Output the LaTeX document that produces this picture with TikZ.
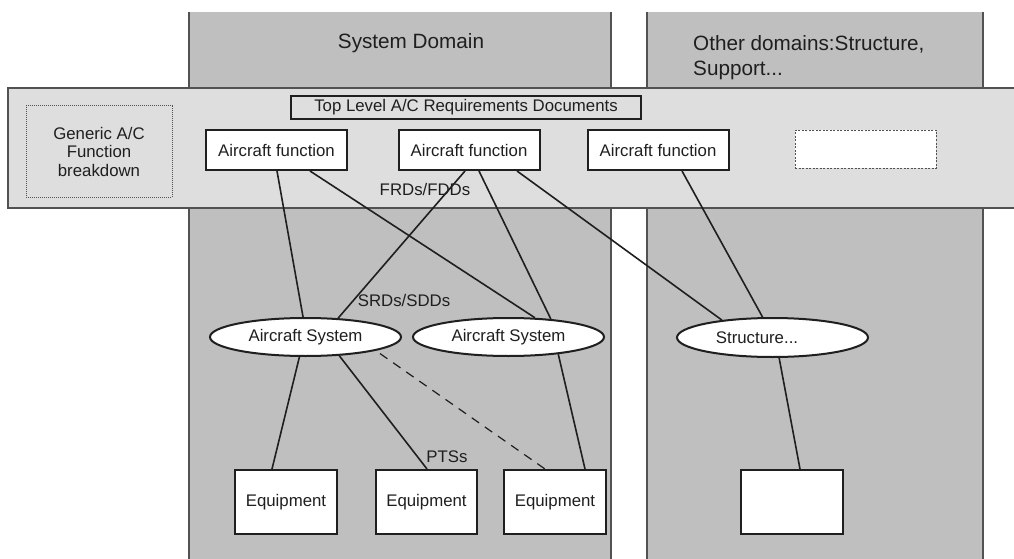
\documentclass[tikz,border=0pt]{standalone}
\usepackage{fontspec}
\setmainfont{Liberation Sans}
\usetikzlibrary{shapes.geometric}
\definecolor{colfill}{gray}{0.75}
\definecolor{bandfill}{gray}{0.87}
\definecolor{edge}{gray}{0.32}
\definecolor{ink}{gray}{0.12}
\begin{document}
\begin{tikzpicture}[x=1pt,y=-1pt, font=\fontsize{16.8}{18.5}\selectfont, text=ink,
  box/.style={draw=ink, line width=2pt, fill=white, inner sep=0pt},
  afbox/.style={box, minimum width=141pt, minimum height=40pt},
  eqbox/.style={box, minimum width=102pt, minimum height=64pt},
  sysell/.style={ellipse, draw=ink, line width=2pt, fill=white, inner sep=0pt, minimum width=191pt, minimum height=38pt},
  conn/.style={draw=ink, line width=1.6pt},
  lbl/.style={inner sep=0pt},
  title/.style={inner sep=0pt, font=\fontsize{20.7}{25}\selectfont}]
\useasboundingbox (0,0) rectangle (1014,559);
% domain columns
\fill[colfill] (189,12) rectangle (611,559);
\draw[edge,line width=1.5pt] (189,559) -- (189,12) (611,12) -- (611,559);
\fill[colfill] (647,12) rectangle (983,559);
\draw[edge,line width=1.5pt] (647,559) -- (647,12) (983,12) -- (983,559);
\node[title] (sysd) at (411,43) {System Domain};
\node[title, anchor=west, align=left] (othd) at (693,57.5) {Other domains:Structure,\\Support...};
% function band
\fill[bandfill] (8,88) rectangle (1014,208);
\draw[edge,line width=1.5pt] (1014,88) -- (8,88) -- (8,208) -- (1014,208);
\node[draw=edge, line width=1pt, densely dotted, minimum width=146pt, minimum height=91pt, inner sep=0pt, align=center] (gen) at (99,151.5) {Generic A/C\\Function\\breakdown};
\node[draw=ink, line width=2pt, minimum width=350pt, minimum height=23pt, inner sep=0pt] (top) at (466,107.5) {Top Level A/C Requirements Documents};
\node[afbox] (af1) at (276.5,150) {Aircraft function};
\node[afbox] (af2) at (469,150) {Aircraft function};
\node[afbox] (af3) at (658,150) {Aircraft function};
\node[draw=edge, line width=0.8pt, dash pattern=on 2pt off 1.5pt, fill=white, minimum width=141pt, minimum height=38pt, inner sep=0pt] (afx) at (865.5,149) {};
% systems
\node[sysell] (as1) at (305.5,337) {Aircraft System};
\node[sysell] (as2) at (508.5,337) {Aircraft System};
\node[sysell, minimum height=39pt] (st) at (772.5,337.5) {};
\node[lbl] (stl) at (757,337.5) {Structure...};
% equipment
\node[eqbox] (e1) at (286,502) {Equipment};
\node[eqbox, minimum width=101pt] (e2) at (426.5,502) {Equipment};
\node[eqbox] (e3) at (555,502) {Equipment};
\node[eqbox] (e4) at (792,502) {};
% labels
\node[lbl] (frd) at (425,189) {FRDs/FDDs};
\node[lbl] (srd) at (404,300) {SRDs/SDDs};
\node[lbl] (pts) at (447,457) {PTSs};
% connectors
\draw[conn] ([xshift=0.5pt]af1.south) -- (as1.97.5);
\draw[conn] ([xshift=33.5pt]af1.south) -- (as2.36.8);
\draw[conn] ([xshift=-4pt]af2.south) -- (as1.30);
\draw[conn] ([xshift=10pt]af2.south) -- (as2.23);
\draw[conn] ([xshift=48pt]af2.south) -- (st.161.9);
\draw[conn] ([xshift=24pt]af3.south) -- (st.116);
\draw[conn] (as1.253.8) -- ([xshift=-14pt]e1.north);
\draw[conn] (as1.331.2) -- ([xshift=0.5pt]e2.north);
\draw[conn, line width=1.2pt, dash pattern=on 9pt off 7pt, shorten <=5pt] (as1.-11.2) -- ([xshift=-10pt]e3.north);
\draw[conn] (as2.341.3) -- ([xshift=30pt]e3.north);
\draw[conn] (st.288.4) -- ([xshift=8pt]e4.north);
\end{tikzpicture}
\end{document}
